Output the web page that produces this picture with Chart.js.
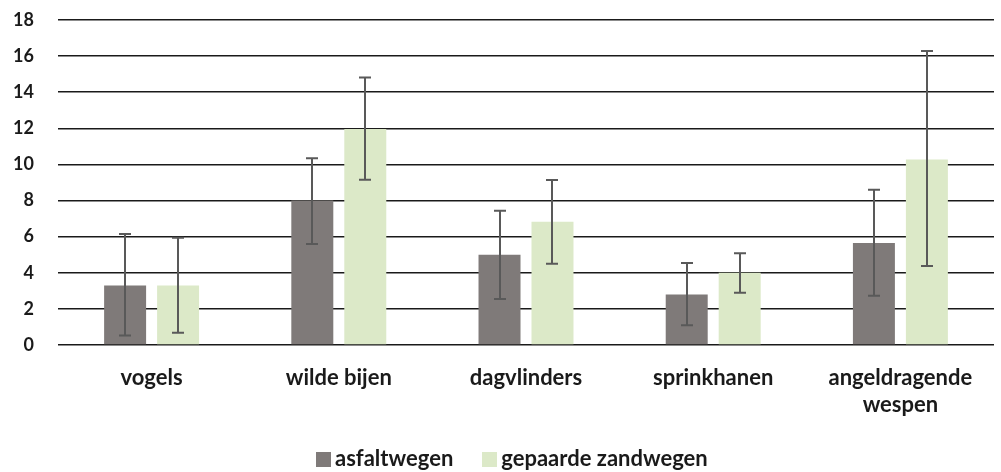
<!DOCTYPE html>
<html>
<head>
<meta charset="utf-8">
<script src="https://cdn.jsdelivr.net/npm/chart.js@4/dist/chart.umd.min.js"></script>
<style>
  html, body { margin: 0; padding: 0; background: #ffffff; overflow: hidden; }
  #wrap { position: relative; width: 1001px; height: 472px; }
  canvas { display: block; }
  #legend { position: absolute; left: 316px; top: 446px; display: flex; align-items: center;
            font-family: Lato, "Open Sans", sans-serif; font-weight: bold; font-size: 22px; color: #1a1a1a; line-height: 24px; }
  .item { display: flex; align-items: center; margin-right: 29px; }
  .box { width: 15px; height: 15px; margin-right: 4px; margin-top: 2px; }
</style>
</head>
<body>
<div id="wrap">
  <canvas id="c" width="1001" height="472"></canvas>
  <div id="legend"></div>
</div>
<script>
// ---- data ----
const categories = ["vogels", "wilde bijen", "dagvlinders", "sprinkhanen", ["angeldragende", "wespen"]];
const seriesNames = ["asfaltwegen", "gepaarde zandwegen"];
const asfaltValues = [3.3, 8.0, 5.0, 2.8, 5.65];
const asfaltLow = [0.52, 5.6, 2.55, 1.1, 2.73];
const asfaltHigh = [6.15, 10.35, 7.44, 4.54, 8.6];
const zandValues = [3.3, 11.97, 6.83, 4.0, 10.28];
const zandLow = [0.68, 9.15, 4.5, 2.9, 4.37];
const zandHigh = [5.94, 14.82, 9.14, 5.08, 16.28];
const yTicks = [0, 2, 4, 6, 8, 10, 12, 14, 16, 18];

const colors = ["#7f7a79", "#dce9c8"];
const errLow = [asfaltLow, zandLow];
const errHigh = [asfaltHigh, zandHigh];

const errorBarPlugin = {
  id: "errorBars",
  afterDatasetsDraw(chart) {
    const ctx = chart.ctx;
    const yScale = chart.scales.y;
    ctx.save();
    ctx.strokeStyle = "#595959";
    ctx.lineWidth = 2;
    chart.data.datasets.forEach((ds, di) => {
      const meta = chart.getDatasetMeta(di);
      meta.data.forEach((bar, i) => {
        const x = Math.round(bar.x);
        const yLo = yScale.getPixelForValue(errLow[di][i]);
        const yHi = yScale.getPixelForValue(errHigh[di][i]);
        ctx.beginPath();
        ctx.moveTo(x, yLo); ctx.lineTo(x, yHi);
        ctx.moveTo(x - 6, yLo); ctx.lineTo(x + 6, yLo);
        ctx.moveTo(x - 6, yHi); ctx.lineTo(x + 6, yHi);
        ctx.stroke();
      });
    });
    ctx.restore();
  }
};

const chart = new Chart(document.getElementById("c"), {
  type: "bar",
  data: {
    labels: categories,
    datasets: [
      { label: seriesNames[0], data: asfaltValues, backgroundColor: colors[0],
        categoryPercentage: 0.566, barPercentage: 0.7925 },
      { label: seriesNames[1], data: zandValues, backgroundColor: colors[1],
        categoryPercentage: 0.566, barPercentage: 0.7925 }
    ]
  },
  options: {
    responsive: false,
    animation: false,
    devicePixelRatio: 1,
    layout: { padding: { left: 0, right: 7, top: 20, bottom: 0 } },
    plugins: { legend: { display: false }, tooltip: { enabled: false } },
    scales: {
      x: {
        grid: { display: false, drawTicks: false },
        border: { display: false },
        ticks: {
          color: "#1a1a1a",
          font: { family: "Lato, 'Open Sans', sans-serif", weight: "bold", size: 22, lineHeight: 1.2 },
          padding: 20, maxRotation: 0, autoSkip: false
        },
        afterFit(scale) { scale.height = 127; }
      },
      y: {
        min: 0, max: 18,
        afterBuildTicks(scale) { scale.ticks = yTicks.map(v => ({ value: v })); },
        grid: { color: "#1a1a1a", lineWidth: 1.6, drawTicks: false },
        border: { display: false },
        ticks: {
          color: "#1a1a1a",
          font: { family: "Lato, 'Open Sans', sans-serif", weight: "bold", size: 18 },
          padding: 24
        },
        afterFit(scale) { scale.width = 58; scale.paddingTop = 0; scale.paddingBottom = 0; }
      }
    }
  },
  plugins: [errorBarPlugin]
});

// HTML legend (text kept as real text)
const legend = document.getElementById("legend");
seriesNames.forEach((name, i) => {
  const item = document.createElement("div");
  item.className = "item";
  const box = document.createElement("div");
  box.className = "box";
  box.style.background = colors[i];
  const txt = document.createElement("span");
  txt.textContent = name;
  item.appendChild(box); item.appendChild(txt);
  legend.appendChild(item);
});
</script>
</body>
</html>
